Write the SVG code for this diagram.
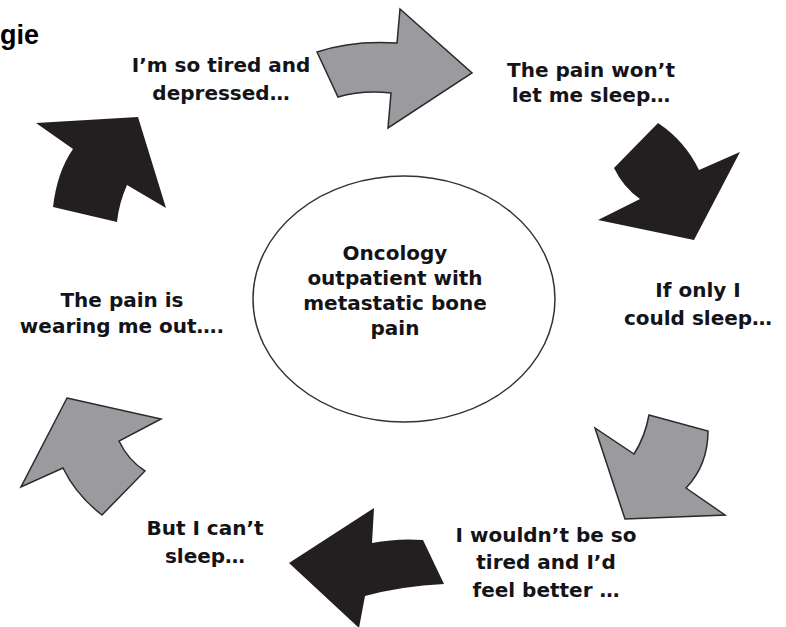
<svg xmlns="http://www.w3.org/2000/svg" width="786" height="627" viewBox="0 0 786 627">
  <style>
    .lbl { font-family: "DejaVu Sans", "Liberation Sans", sans-serif; font-weight: bold; font-size: 20px; fill: #141418; text-anchor: middle; }
    .gray { fill: #9b9b9f; stroke: #2a2a2a; stroke-width: 1.5; stroke-linejoin: miter; }
    .black { fill: #231f20; stroke: none; }
    .hub { fill: #ffffff; stroke: #333333; stroke-width: 1.5; }
  </style>
  <rect width="786" height="627" fill="#ffffff"/>
  <text x="39" y="44" font-family="Liberation Sans, Arial, sans-serif" font-weight="bold" font-size="27" fill="#000" text-anchor="end">gie</text>

  <g id="connectors">
    <path id="arrow-top" class="gray" d="M317,52 Q352,40 397,43 L400,9 L472,73 L388,128 L391,93 Q362,90 338,97 Z"/>
    <path id="arrow-right-upper" class="black" d="M658,123 Q685,141 699,170 L740,152 L694,240 L598,220 L640,199 Q623,187 614,168 Z"/>
    <path id="arrow-right-lower" class="gray" d="M649,415 L708,431 Q708,465 686,488 L725,515 L625,519 L595,428 L634,454 Q645,437 649,415 Z"/>
    <path id="arrow-bottom" class="black" d="M372,543 Q398,538 423,540 L444,584 Q402,586 365,596 L359,628 L289,563 L374,508 Z"/>
    <path id="arrow-left-lower" class="gray" d="M67,398 L161,419 L119,441 Q128,460 145,471 L102,515 Q76,495 63,468 L21,487 Z"/>
    <path id="arrow-left-upper" class="black" d="M36,123 L138,117 L166,208 L127,185 Q119,203 117,222 L53,207 Q57,172 73,149 Z"/>
  </g>

  <g id="center">
    <ellipse class="hub" cx="404" cy="299" rx="151" ry="123"/>
    <text class="lbl" x="395" y="260">Oncology</text>
    <text class="lbl" x="395" y="285">outpatient with</text>
    <text class="lbl" x="395" y="310">metastatic bone</text>
    <text class="lbl" x="395" y="335">pain</text>
  </g>

  <g id="node-tired">
    <text class="lbl" x="221" y="72">I’m so tired and</text>
    <text class="lbl" x="221" y="100">depressed…</text>
  </g>
  <g id="node-wont-sleep">
    <text class="lbl" x="591" y="77">The pain won’t</text>
    <text class="lbl" x="591" y="102">let me sleep…</text>
  </g>
  <g id="node-if-only">
    <text class="lbl" x="698" y="297">If only I</text>
    <text class="lbl" x="698" y="325">could sleep…</text>
  </g>
  <g id="node-wouldnt">
    <text class="lbl" x="546" y="542">I wouldn’t be so</text>
    <text class="lbl" x="546" y="569">tired and I’d</text>
    <text class="lbl" x="546" y="597">feel better …</text>
  </g>
  <g id="node-cant-sleep">
    <text class="lbl" x="205" y="535">But I can’t</text>
    <text class="lbl" x="205" y="563">sleep…</text>
  </g>
  <g id="node-wearing">
    <text class="lbl" x="122" y="307">The pain is</text>
    <text class="lbl" x="122" y="333">wearing me out….</text>
  </g>
</svg>
